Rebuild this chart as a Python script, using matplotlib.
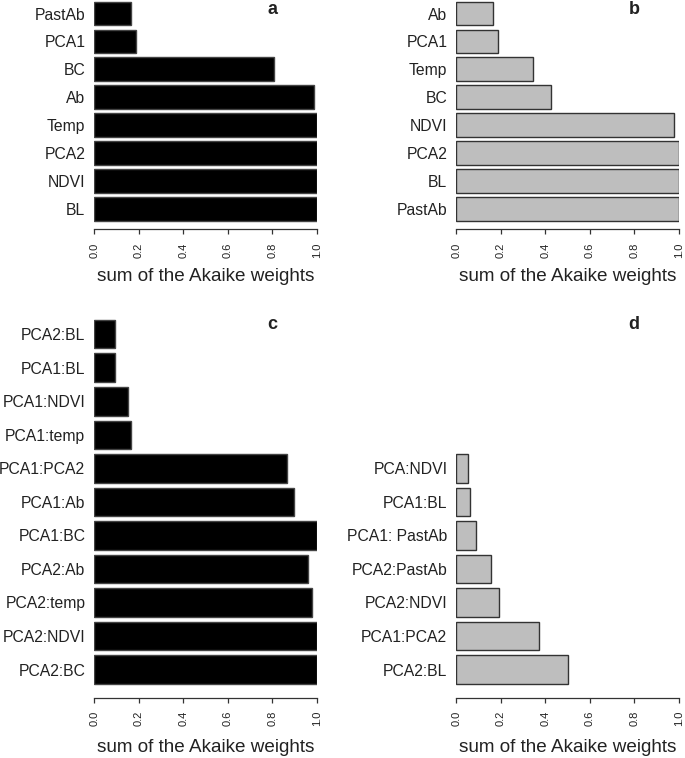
import matplotlib
matplotlib.use('Agg')
import matplotlib.pyplot as plt
from matplotlib import font_manager

# panel a
vars_a = ['BL', 'NDVI', 'PCA2', 'Temp', 'Ab', 'BC', 'PCA1', 'PastAb']
w_a = [1.0, 1.0, 1.0, 1.0, 0.986, 0.81, 0.188, 0.165]
# panel b
vars_b = ['PastAb', 'BL', 'PCA2', 'NDVI', 'BC', 'Temp', 'PCA1', 'Ab']
w_b = [1.0, 1.0, 1.0, 0.977, 0.427, 0.344, 0.188, 0.165]
# panel c
vars_c = ['PCA2:BC', 'PCA2:NDVI', 'PCA2:temp', 'PCA2:Ab', 'PCA1:BC', 'PCA1:Ab',
          'PCA1:PCA2', 'PCA1:temp', 'PCA1:NDVI', 'PCA1:BL', 'PCA2:BL']
w_c = [1.0, 1.0, 0.98, 0.962, 1.0, 0.90, 0.868, 0.164, 0.15, 0.093, 0.093]
# panel d
vars_d = ['PCA2:BL', 'PCA1:PCA2', 'PCA2:NDVI', 'PCA2:PastAb', 'PCA1: PastAb',
          'PCA1:BL', 'PCA:NDVI']
w_d = [0.503, 0.373, 0.194, 0.156, 0.09, 0.063, 0.054]

xticks = [0.0, 0.2, 0.4, 0.6, 0.8, 1.0]
xlabel = 'sum of the Akaike weights'

names = {f.name for f in font_manager.fontManager.ttflist}
if 'Liberation Sans Narrow' in names:
    yfont, ysize = 'Liberation Sans Narrow', 13.3
else:
    yfont, ysize = 'Liberation Sans', 11.3

plt.rcParams['font.family'] = ['Liberation Sans', 'DejaVu Sans']
txt = '#222222'

W, H = 685, 758
fig = plt.figure(figsize=(W / 100, H / 100), dpi=100)


def panel(left, top, bottom, names_, vals, ylim, face, edge, letter, labely):
    ax = fig.add_axes([left / W, 1 - bottom / H, 222.4 / W, (bottom - top) / H])
    ax.barh(range(len(vals)), vals, height=0.85, color=face, edgecolor=edge,
            linewidth=1.0)
    ax.set_xlim(0, 1)
    ax.set_ylim(*ylim)
    ax.set_yticks(range(len(vals)))
    ax.set_yticklabels(names_, fontsize=ysize, family=yfont, color=txt)
    ax.set_xticks(xticks)
    ax.set_xticklabels(['%.1f' % t for t in xticks], rotation=90, fontsize=8,
                       color=txt)
    ax.tick_params(axis='y', length=0, pad=6.5)
    ax.tick_params(axis='x', length=3.6, width=0.9, color='#333333', pad=6)
    for s in ['top', 'right', 'left']:
        ax.spines[s].set_visible(False)
    ax.spines['bottom'].set_color('#333333')
    ax.spines['bottom'].set_linewidth(0.9)
    ax.set_xlabel(xlabel, fontsize=13.6, color=txt, va='top')
    ax.xaxis.set_label_coords(0.5, labely)
    ax.text(0.8, 1 - 10 / (bottom - top) if top == 0 else 1 - 25 / (bottom - top),
            letter, transform=ax.get_xaxis_transform() if False else ax.transAxes,
            ha='center', va='center', fontsize=13, fontweight='bold', color=txt)
    ax.set_facecolor('none')
    return ax


# put the letters at x = 0.8 in data units (xlim 0..1 so axes fraction == data)
ylim_top = (-0.735, 7.486)
ylim_bot = (-0.841, 11.02)

panel(94.3, 0, 229.3, vars_a, w_a, ylim_top, 'black', '#444444', 'a',
      -(268 - 229.3) / 229.3)
panel(456.3, 0, 229.3, vars_b, w_b, ylim_top, '#bebebe', '#333333', 'b',
      -(268 - 229.3) / 229.3)
panel(94.3, 300, 697.7, vars_c, w_c, ylim_bot, 'black', '#444444', 'c',
      -(739.3 - 697.7) / 397.7)
panel(456.3, 300, 697.7, vars_d, w_d, ylim_bot, '#bebebe', '#333333', 'd',
      -(739.3 - 697.7) / 397.7)

fig.savefig('out.png', dpi=100, facecolor='white')
